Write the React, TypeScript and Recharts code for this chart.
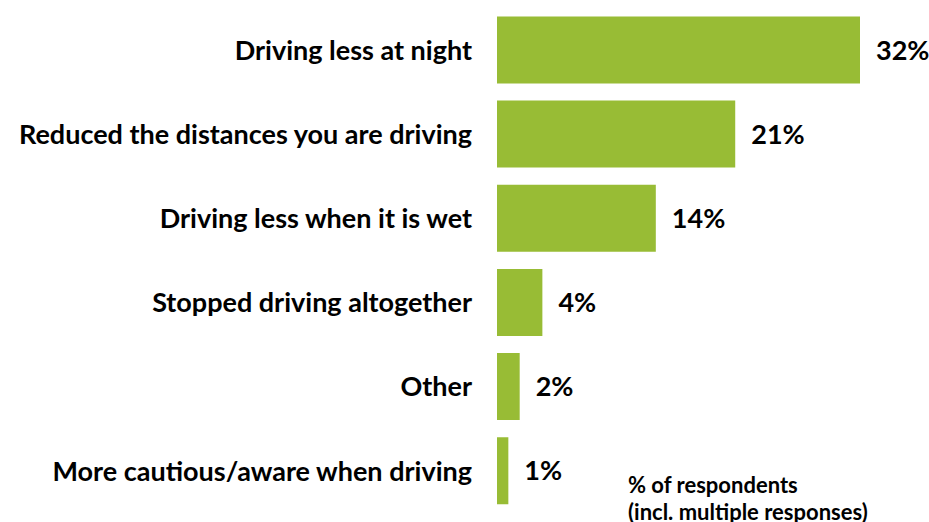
import { BarChart, Bar, XAxis, YAxis, LabelList } from "recharts";

const categories = [
  "Driving less at night",
  "Reduced the distances you are driving",
  "Driving less when it is wet",
  "Stopped driving altogether",
  "Other",
  "More cautious/aware when driving",
];
const shares = [32, 21, 14, 4, 2, 1];

const data = categories.map((name, i) => ({ name, value: shares[i] }));

const FONT = "Lato, 'Noto Sans', sans-serif";

export default function App() {
  return (
    <div style={{ position: "absolute", left: 0, top: 0, width: 929, height: 522, overflow: "hidden", background: "#fff", fontFamily: FONT }}>
      <BarChart
        width={929}
        height={522}
        data={data}
        layout="vertical"
        margin={{ top: 8, right: 69, bottom: 9, left: 0 }}
        barCategoryGap="10%"
      >
        <XAxis type="number" domain={[0, 32]} hide />
        <YAxis
          type="category"
          dataKey="name"
          width={497}
          axisLine={false}
          tickLine={false}
          tickSize={0}
          tickMargin={25}
          interval={0}
          tick={{ fill: "#000", fontSize: 27, fontWeight: 700, fontFamily: FONT }}
        />
        <Bar dataKey="value" fill="#98bc35" isAnimationActive={false}>
          <LabelList
            dataKey="value"
            position="right"
            offset={16}
            formatter={(v: number) => `${v}%`}
            style={{ fill: "#000", fontSize: 27, fontWeight: 700, fontFamily: FONT }}
          />
        </Bar>
      </BarChart>
      <div
        style={{
          position: "absolute",
          left: 628,
          top: 471,
          fontSize: 22,
          fontWeight: 700,
          lineHeight: "27px",
          color: "#000",
          whiteSpace: "nowrap",
        }}
      >
        % of respondents
        <br />
        (incl. multiple responses)
      </div>
    </div>
  );
}
